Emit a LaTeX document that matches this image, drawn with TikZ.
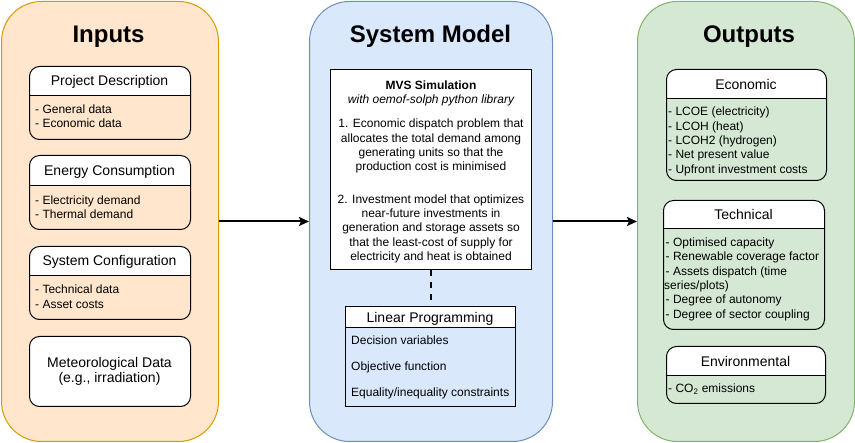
\documentclass[tikz,border=0pt]{standalone}
\usepackage{fontspec}
\setmainfont{Liberation Sans}
\usetikzlibrary{arrows.meta}
\definecolor{orfill}{HTML}{FFE6CC}
\definecolor{orline}{HTML}{D79B00}
\definecolor{blfill}{HTML}{DAE8FC}
\definecolor{blline}{HTML}{6C8EBF}
\definecolor{grfill}{HTML}{D5E8D4}
\definecolor{grline}{HTML}{82B366}
\tikzset{
  container/.style={draw, rounded corners=40pt, line width=1pt, anchor=north west, inner sep=0pt},
  titletext/.style={font=\fontsize{24}{28}\selectfont\bfseries, anchor=base, inner sep=0pt},
  headtext/.style={font=\fontsize{14}{16.8}\selectfont, anchor=base, inner sep=0pt},
  bodytext/.style={font=\fontsize{12}{14.4}\selectfont, anchor=base west, inner sep=0pt},
  centertext/.style={font=\fontsize{12}{14.4}\selectfont, anchor=base, inner sep=0pt},
  flow/.style={line width=2pt, -{Stealth[length=10pt,width=9pt,inset=2pt]}},
  plainbox/.style={draw, line width=1pt, anchor=north west, inner sep=0pt},
}
\newcommand{\hdrbox}[6]{%
  \begin{scope}
    \clip (#2,#3) rectangle (#4,#6);
    \fill[white, rounded corners=10pt] (#2,#3) rectangle (#4,#5);
  \end{scope}
  \draw[line width=1pt] (#2,#6) -- (#4,#6);
  \node[plainbox, rounded corners=10pt, minimum width={(#4-#2)*1pt}, minimum height={(#5-#3)*1pt}] (#1) at (#2,#3) {};
}
\begin{document}
\begin{tikzpicture}[x=1pt, y=-1pt]
\useasboundingbox (0,0) rectangle (855,443);

% containers
\node[container, draw=orline, fill=orfill, minimum width=217pt, minimum height=440pt] (inputs) at (1,1) {};
\node[container, draw=blline, fill=blfill, minimum width=243pt, minimum height=440pt] (model) at (309,1) {};
\node[container, draw=grline, fill=grfill, minimum width=217pt, minimum height=440pt] (outputs) at (637,1) {};

\node[titletext] (tin) at (108.5,43) {Inputs};
\node[titletext] (tmod) at (430.5,43) {System Model};
\node[titletext] (tout) at (749,43) {Outputs};

% ---------- Inputs ----------
\hdrbox{pd}{29}{66}{190}{139}{96}
\node[headtext] (pdh) at (109.5,86) {Project Description};
\node[bodytext] (pd1) at (35,113.5) {- General data};
\node[bodytext] (pd2) at (35,127.8) {- Economic data};

\hdrbox{ec}{29}{155}{190}{229}{186}
\node[headtext] (ech) at (109.5,176) {Energy Consumption};
\node[bodytext] (ec1) at (35,204.2) {- Electricity demand};
\node[bodytext] (ec2) at (35,218.5) {- Thermal demand};

\hdrbox{sc}{29}{246}{190}{319}{276}
\node[headtext] (sch) at (109.5,266) {System Configuration};
\node[bodytext] (sc1) at (35,294) {- Technical data};
\node[bodytext] (sc2) at (35,308.3) {- Asset costs};

\node[plainbox, fill=white, rounded corners=10pt, minimum width=161pt, minimum height=70pt] (met) at (29,336) {};
\node[headtext] (met1) at (109.5,368) {Meteorological Data};
\node[headtext] (met2) at (109.5,383) {(e.g., irradiation)};

% ---------- System Model ----------
\node[plainbox, fill=white, minimum width=201pt, minimum height=200pt] (mvs) at (330,69) {};
\node[centertext, font=\fontsize{12}{14.4}\selectfont\bfseries] (m0) at (431,89.3) {MVS Simulation};
\node[centertext, font=\fontsize{12}{14.4}\selectfont\itshape] (m1) at (431,104) {with oemof-solph python library};
\node[centertext] (m2) at (431,128) {1. Economic dispatch problem that};
\node[centertext] (m3) at (431,142.3) {allocates the total demand among};
\node[centertext] (m4) at (431,156.6) {generating units so that the};
\node[centertext] (m5) at (431,171) {production cost is minimised};
\node[centertext] (m6) at (431,203.3) {2. Investment model that optimizes};
\node[centertext] (m7) at (431,217.7) {near-future investments in};
\node[centertext] (m8) at (431,232) {generation and storage assets so};
\node[centertext] (m9) at (431,246.4) {that the least-cost of supply for};
\node[centertext] (m10) at (431,260.8) {electricity and heat is obtained};

\fill[white] (345,306) rectangle (515,328);
\draw[line width=1pt] (345,328) -- (515,328);
\node[plainbox, minimum width=170pt, minimum height=100pt] (lp) at (345,306) {};
\node[headtext] (lph) at (430,322.5) {Linear Programming};
\node[bodytext] (lp1) at (351,345) {Decision variables};
\node[bodytext] (lp2) at (351,371) {Objective function};
\node[bodytext] (lp3) at (351,397) {Equality/inequality constraints};

\draw[line width=2pt, dash pattern=on 6pt off 6pt] (mvs.south) -- (mvs.south |- lp.north);

% ---------- Outputs ----------
\hdrbox{eco}{666}{69}{826}{180}{99}
\node[headtext] (ecoh) at (746,89.3) {Economic};
\node[bodytext] (eco1) at (668,116) {- LCOE (electricity)};
\node[bodytext] (eco2) at (668,130.3) {- LCOH (heat)};
\node[bodytext] (eco3) at (668,144.6) {- LCOH2 (hydrogen)};
\node[bodytext] (eco4) at (668,158.9) {- Net present value};
\node[bodytext] (eco5) at (668,173.2) {- Upfront investment costs};

\hdrbox{tec}{663}{200}{824}{329}{229}
\node[headtext] (tech) at (743.5,220) {Technical};
\node[bodytext] (tec1) at (665.5,246.7) {- Optimised capacity};
\node[bodytext] (tec2) at (665.5,261) {- Renewable coverage factor};
\node[bodytext] (tec3) at (665.5,275.3) {- Assets dispatch (time};
\node[bodytext] (tec4) at (664,289.6) {series/plots)};
\node[bodytext] (tec5) at (665.5,304) {- Degree of autonomy};
\node[bodytext] (tec6) at (665.5,318.3) {- Degree of sector coupling};

\hdrbox{env}{666}{346}{825}{403}{376}
\node[headtext] (envh) at (745.5,366.7) {Environmental};
\node[bodytext] (env1) at (668,392.5) {- CO\textsubscript{2} emissions};

% arrows
\draw[flow] (inputs.east) -- (model.west);
\draw[flow] (model.east) -- (outputs.west);
\end{tikzpicture}
\end{document}
